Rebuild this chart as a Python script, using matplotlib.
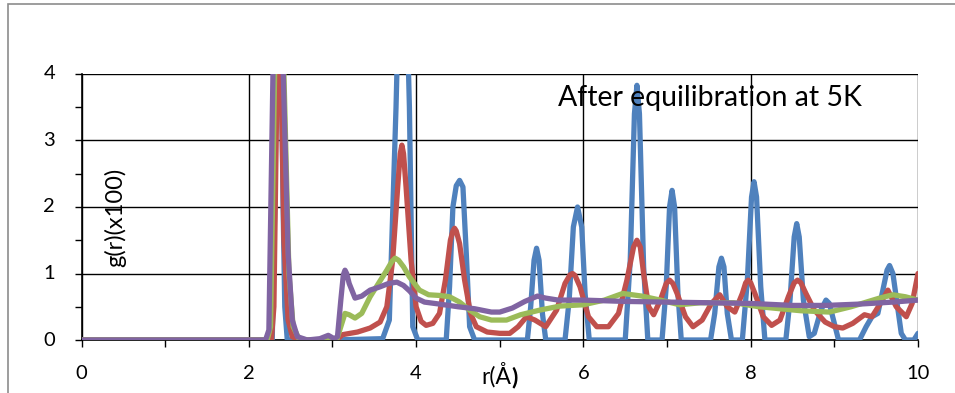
import matplotlib.pyplot as plt
from matplotlib.patches import Rectangle
from matplotlib.ticker import MultipleLocator

plt.rcParams['font.family'] = ['Lato', 'DejaVu Sans']

# g(r) curves, r in Angstrom, g in units of 100
r_blue = [0, 2.28, 2.31, 2.36, 2.41, 2.43, 2.46, 3.0, 3.6, 3.68, 3.76, 3.84, 3.92, 3.96, 4.02,
          4.36, 4.4, 4.44, 4.48, 4.52, 4.56, 4.6, 4.64, 4.7, 5.33, 5.37, 5.41, 5.44, 5.47, 5.51, 5.55,
          5.78, 5.83, 5.88, 5.93, 5.98, 6.02, 6.07, 6.5, 6.56, 6.61, 6.64, 6.67, 6.72, 6.77,
          6.94, 6.99, 7.03, 7.06, 7.09, 7.13, 7.17, 7.52, 7.57, 7.62, 7.65, 7.68, 7.72, 7.77,
          7.9, 7.96, 8.01, 8.04, 8.07, 8.12, 8.17, 8.42, 8.47, 8.52, 8.55, 8.58, 8.63, 8.7,
          8.76, 8.84, 8.9, 8.94, 8.99, 9.05, 9.3, 9.38, 9.45, 9.52, 9.58, 9.63, 9.66, 9.7, 9.75,
          9.8, 9.85, 9.95, 10]
g_blue = [0, 0, 2.0, 7.0, 2.0, 0.5, 0, 0, 0.02, 0.3, 3.5, 7.5, 3.5, 0.2, 0,
          0, 0.8, 2.0, 2.32, 2.4, 2.3, 1.3, 0.2, 0, 0, 0.5, 1.2, 1.38, 1.2, 0.4, 0,
          0, 0.6, 1.7, 2.0, 1.7, 0.7, 0, 0, 1.2, 3.4, 3.83, 3.4, 1.1, 0,
          0, 0.8, 2.0, 2.25, 2.0, 0.7, 0, 0, 0.4, 1.1, 1.23, 1.1, 0.4, 0,
          0, 0.9, 2.15, 2.38, 2.15, 0.8, 0, 0, 0.6, 1.55, 1.75, 1.55, 0.6, 0.05,
          0.1, 0.45, 0.6, 0.55, 0.3, 0, 0, 0.2, 0.35, 0.4, 0.75, 1.05, 1.12, 1.0, 0.55,
          0.1, 0, 0, 0.1]

r_red = [0, 2.27, 2.3, 2.36, 2.42, 2.47, 2.52, 2.6, 3.05, 3.12, 3.3, 3.45, 3.57, 3.65, 3.72,
         3.78, 3.81, 3.83, 3.85, 3.88, 3.94, 4.0, 4.06, 4.12, 4.2, 4.28, 4.35, 4.41, 4.44, 4.46,
         4.48, 4.52, 4.58, 4.65, 4.72, 4.85, 5.0, 5.12, 5.22, 5.32, 5.42, 5.55, 5.68, 5.78,
         5.84, 5.87, 5.9, 5.96, 6.06, 6.16, 6.3, 6.42, 6.52, 6.6, 6.64, 6.68, 6.72, 6.78, 6.84,
         6.92, 6.99, 7.03, 7.07, 7.12, 7.22, 7.31, 7.42, 7.53, 7.63, 7.72, 7.81, 7.9, 7.94,
         7.97, 8.0, 8.05, 8.15, 8.25, 8.35, 8.45, 8.52, 8.56, 8.6, 8.66, 8.76, 8.89, 9.0, 9.1,
         9.22, 9.36, 9.45, 9.55, 9.64, 9.74, 9.86, 9.93, 10]
g_red = [0, 0, 0.5, 6.0, 1.5, 0.3, 0.05, 0, 0, 0.08, 0.12, 0.18, 0.27, 0.5, 1.2,
         2.3, 2.8, 2.93, 2.8, 2.3, 1.2, 0.5, 0.28, 0.22, 0.25, 0.4, 0.9, 1.5, 1.64, 1.68,
         1.64, 1.45, 0.9, 0.4, 0.2, 0.12, 0.1, 0.1, 0.2, 0.35, 0.3, 0.2, 0.45, 0.85,
         0.98, 1.0, 0.97, 0.8, 0.35, 0.2, 0.2, 0.4, 0.9, 1.4, 1.5, 1.4, 1.0, 0.5, 0.38,
         0.6, 0.85, 0.9, 0.85, 0.7, 0.35, 0.2, 0.3, 0.55, 0.68, 0.5, 0.42, 0.7, 0.86,
         0.9, 0.86, 0.7, 0.35, 0.22, 0.3, 0.65, 0.86, 0.9, 0.86, 0.7, 0.45, 0.27, 0.2, 0.18,
         0.25, 0.38, 0.35, 0.55, 0.75, 0.5, 0.35, 0.55, 1.0]

r_green = [0, 2.22, 2.26, 2.31, 2.37, 2.43, 2.48, 2.53, 2.6, 2.7, 3.05, 3.1, 3.15, 3.2, 3.27,
           3.35, 3.45, 3.55, 3.65, 3.71, 3.75, 3.79, 3.85, 3.92, 4.04, 4.15, 4.28, 4.4, 4.52,
           4.64, 4.76, 4.9, 5.08, 5.25, 5.48, 5.72, 6.0, 6.25, 6.47, 6.7, 6.92, 7.15, 7.4, 7.8,
           8.1, 8.35, 8.6, 8.94, 9.2, 9.54, 9.7, 9.85, 10]
g_green = [0, 0, 0.2, 4.1, 6.5, 3.5, 1.0, 0.2, 0.02, 0, 0, 0.2, 0.4, 0.38, 0.33,
           0.4, 0.65, 0.85, 1.05, 1.18, 1.23, 1.2, 1.1, 0.95, 0.75, 0.68, 0.67, 0.65, 0.57,
           0.45, 0.35, 0.3, 0.3, 0.38, 0.45, 0.51, 0.53, 0.6, 0.7, 0.66, 0.6, 0.53, 0.56, 0.56,
           0.5, 0.47, 0.44, 0.42, 0.5, 0.63, 0.68, 0.65, 0.6]

r_purple = [0, 2.2, 2.24, 2.29, 2.35, 2.41, 2.47, 2.52, 2.58, 2.7, 2.85, 2.95, 3.02, 3.06,
            3.1, 3.13, 3.15, 3.17, 3.2, 3.27, 3.35, 3.45, 3.57, 3.67, 3.77, 3.85, 3.92, 4.0,
            4.1, 4.28, 4.5, 4.7, 4.9, 5.0, 5.15, 5.3, 5.45, 5.55, 5.7, 6.0, 6.5, 7.0, 7.5,
            8.0, 8.5, 8.9, 9.3, 9.7, 10]
g_purple = [0, 0, 0.15, 4.1, 7.0, 4.1, 1.3, 0.3, 0.05, 0, 0.02, 0.07, 0.02, 0.05,
            0.6, 0.98, 1.05, 1.0, 0.85, 0.63, 0.66, 0.75, 0.8, 0.85, 0.87, 0.82, 0.74, 0.63,
            0.57, 0.54, 0.5, 0.47, 0.42, 0.42, 0.48, 0.58, 0.66, 0.63, 0.6, 0.6, 0.58, 0.57,
            0.56, 0.55, 0.52, 0.52, 0.54, 0.57, 0.6]

y_ticks = [0, 1, 2, 3, 4]

fig = plt.figure(figsize=(9.55, 3.93), dpi=100)
ax = fig.add_axes([81.5 / 955, 53 / 393, (918 - 81.5) / 955, (340 - 74) / 393])

lw = 3.8
for r, g, c, z in [(r_blue, g_blue, '#4F81BD', 3), (r_red, g_red, '#C0504D', 4),
                   (r_green, g_green, '#9BBB59', 5), (r_purple, g_purple, '#8064A2', 6)]:
    ax.plot(r, g, color=c, lw=lw, solid_joinstyle='round', solid_capstyle='round', zorder=z)

ax.set_xlim(0, 10)
ax.set_ylim(0, 4)
ax.xaxis.set_major_locator(MultipleLocator(2))
ax.xaxis.set_minor_locator(MultipleLocator(1))
ax.set_yticks(y_ticks)
ax.yaxis.set_minor_locator(MultipleLocator(0.5))
ax.set_yticklabels([])
ax.grid(True, which='major', color='black', lw=1.0, zorder=1)
ax.tick_params(which='both', direction='out', length=5, width=1.0, color='black')
ax.tick_params(axis='x', which='major', pad=13, labelsize=14.5)
for s in ['top', 'right']:
    ax.spines[s].set_visible(False)
for s in ['left', 'bottom']:
    ax.spines[s].set_linewidth(1.2)
ax.set_axisbelow(True)

# y tick labels sit well left of the axis
for v in y_ticks:
    ax.annotate(str(v), xy=(0, v), xycoords=('axes fraction', 'data'),
                xytext=(-19, 0), textcoords='offset points',
                ha='right', va='center', fontsize=14.5)

# axis titles placed inside / beside the plot area
ax.text(0.4, 1.85, 'g(r)(x100)', rotation=90, ha='center', va='center', fontsize=17)
fig.text(511 / 955, 1 - 384 / 393, 'r(Å', ha='right', va='baseline', fontsize=16.5)
fig.text(511 / 955, 1 - 384 / 393, ')', ha='left', va='baseline', fontsize=16.5, fontweight='bold')
fig.text(558 / 955, 1 - 106 / 393, 'After equilibration at 5K', ha='left', va='baseline', fontsize=20.5)

# chart area frame
fig.patches.append(Rectangle((8 / 955, -0.1), 1.2, 1 - 4 / 393 + 0.1, transform=fig.transFigure,
                             fill=False, edgecolor='#8c8c8c', lw=1.2))

fig.savefig('out.png', dpi=100)
